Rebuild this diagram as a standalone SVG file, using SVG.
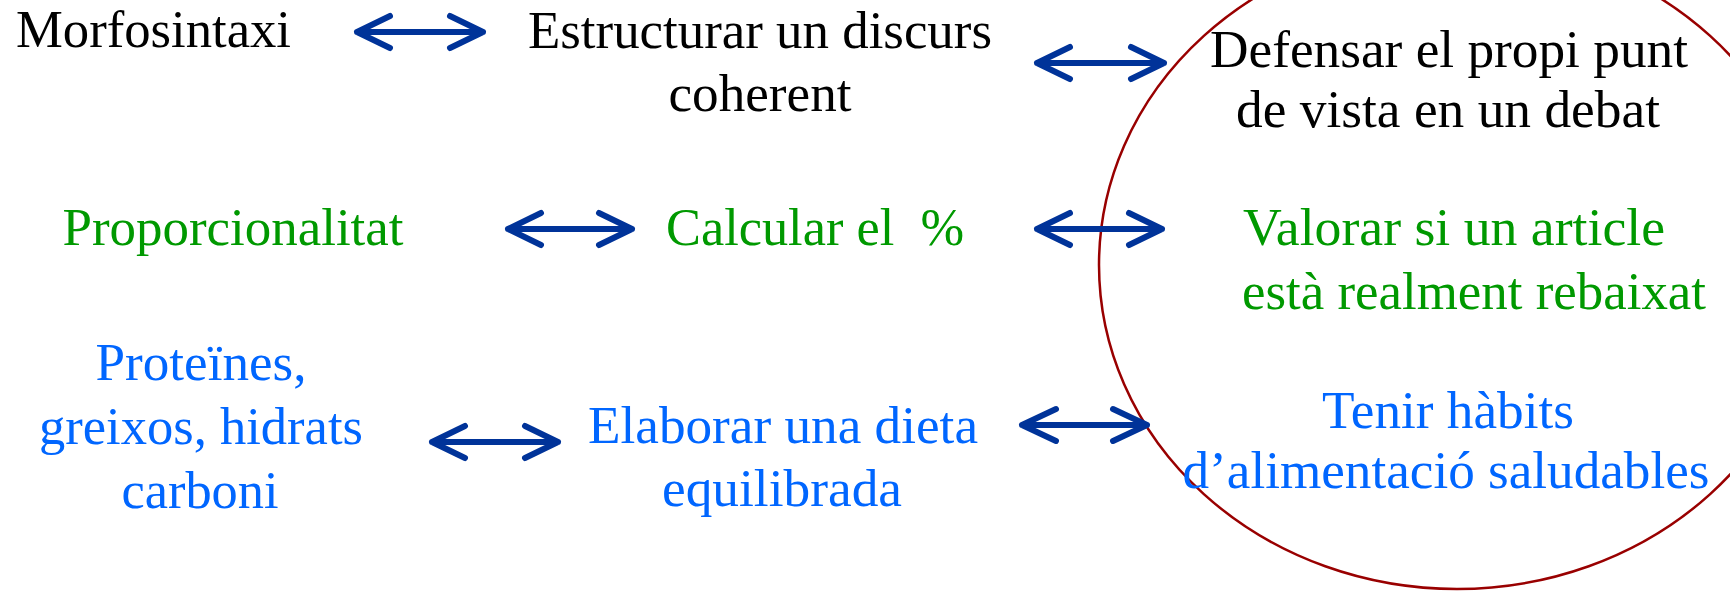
<svg xmlns="http://www.w3.org/2000/svg" width="1730" height="591" viewBox="0 0 1730 591">
<style>
text{font-family:"Liberation Serif","Times New Roman",serif;font-size:53px;white-space:pre}
.k{fill:#000}
.g{fill:#009900}
.b{fill:#0066ff}
.c{text-anchor:middle}
.arr{fill:none;stroke:#003399;stroke-width:6;stroke-linecap:round;stroke-linejoin:round}
</style>
<rect width="1730" height="591" fill="#fff"/>
<ellipse id="circle" cx="1457" cy="265" rx="358" ry="324" fill="none" stroke="#990000" stroke-width="2.5"/>
<g id="n1"><text class="k" x="16" y="47" textLength="275" lengthAdjust="spacingAndGlyphs">Morfosintaxi</text></g>
<g id="n2"><text class="k c" x="760" y="48" textLength="464" lengthAdjust="spacingAndGlyphs">Estructurar un discurs</text><text class="k c" x="760" y="111" textLength="183" lengthAdjust="spacingAndGlyphs">coherent</text></g>
<g id="n3"><text class="k c" x="1449" y="67" textLength="478" lengthAdjust="spacingAndGlyphs">Defensar el propi punt</text><text class="k c" x="1448" y="127" textLength="424" lengthAdjust="spacingAndGlyphs">de vista en un debat</text></g>
<g id="n4"><text class="g c" x="233" y="245" textLength="341" lengthAdjust="spacingAndGlyphs">Proporcionalitat</text></g>
<g id="n5"><text class="g c" x="815" y="245" textLength="298" lengthAdjust="spacingAndGlyphs">Calcular el  %</text></g>
<g id="n6"><text class="g" x="1243" y="245" textLength="422" lengthAdjust="spacingAndGlyphs">Valorar si un article</text><text class="g" x="1242" y="309" textLength="464" lengthAdjust="spacingAndGlyphs">està realment rebaixat</text></g>
<g id="n7"><text class="b c" x="201" y="380" textLength="211" lengthAdjust="spacingAndGlyphs">Proteïnes,</text><text class="b c" x="201" y="444" textLength="324" lengthAdjust="spacingAndGlyphs">greixos, hidrats</text><text class="b c" x="200" y="508" textLength="157" lengthAdjust="spacingAndGlyphs">carboni</text></g>
<g id="n8"><text class="b c" x="783" y="443" textLength="390" lengthAdjust="spacingAndGlyphs">Elaborar una dieta</text><text class="b c" x="782" y="506" textLength="240" lengthAdjust="spacingAndGlyphs">equilibrada</text></g>
<g id="n9"><text class="b c" x="1448" y="428" textLength="252" lengthAdjust="spacingAndGlyphs">Tenir hàbits</text><text class="b c" x="1446" y="488" textLength="527" lengthAdjust="spacingAndGlyphs">d’alimentació saludables</text></g>
<g id="connectors">
<path class="arr" d="M357,32H483M390,16L357,32L390,48M450,16L483,32L450,48"/>
<path class="arr" d="M1037,63H1164M1070,47L1037,63L1070,79M1131,47L1164,63L1131,79"/>
<path class="arr" d="M508,229H632M541,213L508,229L541,245M599,213L632,229L599,245"/>
<path class="arr" d="M1037,229H1162M1070,213L1037,229L1070,245M1129,213L1162,229L1129,245"/>
<path class="arr" d="M432,442H558M465,426L432,442L465,458M525,426L558,442L525,458"/>
<path class="arr" d="M1022,425H1147M1056,409L1022,425L1056,441M1113,409L1147,425L1113,441"/>
</g>
</svg>
